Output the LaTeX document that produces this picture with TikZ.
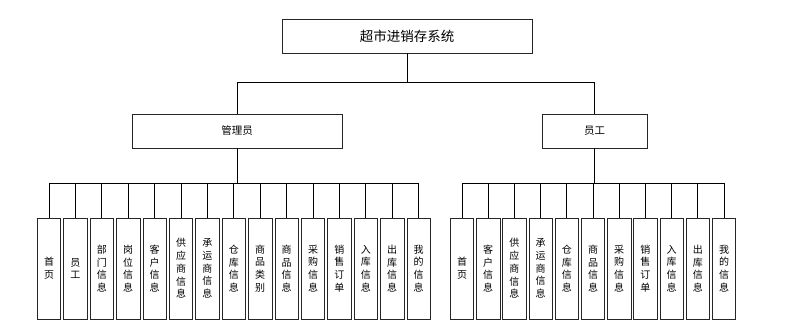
\documentclass[tikz,border=0pt]{standalone}
\usepackage{fontspec}
\setmainfont{Noto Sans CJK SC}
\usepackage{tikz}
\usetikzlibrary{positioning}

\begin{document}
\begin{tikzpicture}[x=1pt, y=1pt, node distance=2.2pt,
  every node/.style={inner sep=0pt},
  topbox/.style={draw=black!85, line width=0.8pt, minimum height=34pt, font=\fontsize{13.5}{15}\selectfont},
  rolebox/.style={draw=black!85, line width=0.8pt, minimum height=34pt, font=\fontsize{10.5}{12}\selectfont},
  leafbox/.style={draw=black!85, line width=0.8pt, minimum width=23.4pt, minimum height=101pt, align=center, font=\fontsize{10}{12.7}\selectfont}]
\useasboundingbox (0,0) rectangle (791,331);
\node[topbox, minimum width=250pt] (sys) at (407,295) {超市进销存系统};
\node[rolebox, minimum width=210pt] (mgr) at (237,200) {管理员};
\node[rolebox, minimum width=105pt] (emp) at (594.5,200) {员工};
% 管理员 children
\node[leafbox] (m1) at (49,62.5) {首\\页};
\node[leafbox, right=of m1] (m2) {员\\工};
\node[leafbox, right=of m2] (m3) {部\\门\\信\\息};
\node[leafbox, right=of m3] (m4) {岗\\位\\信\\息};
\node[leafbox, right=of m4] (m5) {客\\户\\信\\息};
\node[leafbox, right=of m5] (m6) {供\\应\\商\\信\\息};
\node[leafbox, right=of m6] (m7) {承\\运\\商\\信\\息};
\node[leafbox, right=of m7] (m8) {仓\\库\\信\\息};
\node[leafbox, right=of m8] (m9) {商\\品\\类\\别};
\node[leafbox, right=of m9] (m10) {商\\品\\信\\息};
\node[leafbox, right=of m10] (m11) {采\\购\\信\\息};
\node[leafbox, right=of m11] (m12) {销\\售\\订\\单};
\node[leafbox, right=of m12] (m13) {入\\库\\信\\息};
\node[leafbox, right=of m13] (m14) {出\\库\\信\\息};
\node[leafbox, right=of m14] (m15) {我\\的\\信\\息};
% 员工 children
\node[leafbox] (s1) at (462,62.5) {首\\页};
\node[leafbox, right=2pt of s1] (s2) {客\\户\\信\\息};
\node[leafbox, right=2pt of s2] (s3) {供\\应\\商\\信\\息};
\node[leafbox, right=2pt of s3] (s4) {承\\运\\商\\信\\息};
\node[leafbox, right=2pt of s4] (s5) {仓\\库\\信\\息};
\node[leafbox, right=2pt of s5] (s6) {商\\品\\信\\息};
\node[leafbox, right=2pt of s6] (s7) {采\\购\\信\\息};
\node[leafbox, right=2pt of s7] (s8) {销\\售\\订\\单};
\node[leafbox, right=2pt of s8] (s9) {入\\库\\信\\息};
\node[leafbox, right=2pt of s9] (s10) {出\\库\\信\\息};
\node[leafbox, right=2pt of s10] (s11) {我\\的\\信\\息};
% connectors
\draw[line width=0.8pt] (sys.south) -- ++(0,-29) -| (mgr.north);
\draw[line width=0.8pt] (sys.south) -- ++(0,-29) -| (emp.north);
\foreach \i in {1,...,15}
  \draw[line width=0.8pt] (mgr.south) -- ++(0,-35) -| (m\i.north);
\foreach \i in {1,...,11}
  \draw[line width=0.8pt] (emp.south) -- ++(0,-35) -| (s\i.north);
\end{tikzpicture}
\end{document}
